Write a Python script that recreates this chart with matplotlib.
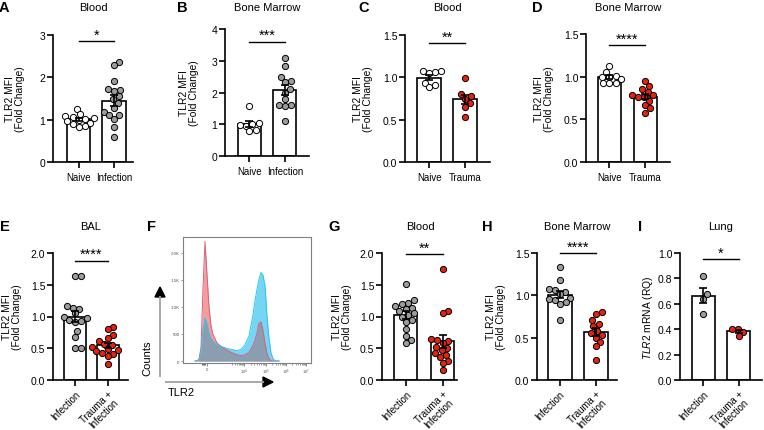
import numpy as np
import matplotlib
matplotlib.use("Agg")
import matplotlib.pyplot as plt
from matplotlib.patches import Polygon

plt.rcParams['font.family'] = ['Liberation Sans', 'DejaVu Sans']
plt.rcParams['mathtext.fontset'] = 'custom'
plt.rcParams['mathtext.rm'] = 'Liberation Sans'
plt.rcParams['mathtext.it'] = 'Liberation Sans:italic'

# ---------------- data ----------------
A_naive = [1.25, 1.13, 1.09, 1.07, 1.04, 1.01, 0.99, 0.96, 0.93, 0.90, 0.86, 0.83]
A_infection = [2.37, 2.28, 1.92, 1.72, 1.70, 1.68, 1.55, 1.50, 1.40, 1.28, 1.18, 1.12, 1.10, 1.02, 0.82, 0.58]
B_naive = [1.56, 1.03, 1.00, 0.97, 0.95, 0.82, 0.78]
B_infection = [3.10, 2.82, 2.48, 2.35, 2.33, 2.12, 2.00, 1.78, 1.62, 1.60, 1.58, 1.10]
C_naive = [1.08, 1.07, 1.06, 1.05, 0.93, 0.91, 0.88]
C_trauma = [0.99, 0.80, 0.78, 0.75, 0.70, 0.65, 0.53]
D_naive = [1.13, 1.06, 1.01, 1.00, 1.00, 0.97, 0.93, 0.93, 0.92]
D_trauma = [0.95, 0.89, 0.86, 0.82, 0.79, 0.78, 0.76, 0.76, 0.72, 0.67, 0.63, 0.58]
E_infection = [1.63, 1.63, 1.17, 1.14, 1.12, 1.05, 1.00, 0.98, 0.94, 0.93, 0.92, 0.77, 0.68, 0.51, 0.51]
E_trauma_inf = [0.84, 0.80, 0.71, 0.66, 0.62, 0.57, 0.55, 0.52, 0.49, 0.47, 0.45, 0.43, 0.41, 0.38, 0.25]
G_infection = [1.51, 1.26, 1.22, 1.20, 1.16, 1.14, 1.12, 1.08, 1.05, 1.03, 1.00, 0.95, 0.92, 0.80, 0.70, 0.63, 0.59]
G_trauma_inf = [1.75, 1.09, 1.05, 0.65, 0.63, 0.61, 0.58, 0.52, 0.50, 0.47, 0.42, 0.40, 0.36, 0.30, 0.27, 0.15]
H_infection = [1.33, 1.18, 1.07, 1.06, 1.04, 1.01, 0.97, 0.96, 0.95, 0.92, 0.90, 0.71]
H_trauma_inf = [0.80, 0.78, 0.71, 0.66, 0.64, 0.58, 0.55, 0.53, 0.50, 0.45, 0.40, 0.24]
I_infection = [0.82, 0.68, 0.64, 0.52]
I_trauma_inf = [0.40, 0.40, 0.38, 0.35]

# histogram (panel F): channel position on TLR2 axis, event counts
F_channel = [96, 112, 128, 144, 160, 176, 192, 208, 224, 240, 272, 304, 336, 368, 400, 432,
             464, 496, 528, 560, 576, 592, 608, 624, 640, 656, 672, 688, 704, 720, 736, 768]
F_red = [0, 5, 30, 250, 1350, 2214, 1600, 1000, 650, 490, 335, 270, 220, 180, 145, 115,
         100, 115, 160, 290, 380, 520, 700, 720, 560, 330, 140, 40, 5, 0, 0, 0]
F_blue = [0, 0, 20, 180, 560, 800, 690, 520, 420, 370, 300, 270, 245, 225, 210, 190,
          215, 300, 460, 860, 1116, 1330, 1520, 1640, 1590, 1394, 820, 420, 150, 45, 5, 0]
F_ytick_pos = [0, 500, 1000, 1500, 2000]
F_ytick_labels = ['0', '500', '1.0K', '1.5K', '2.0K']
F_xtick_pos = [192, 488, 664, 824, 984]
F_xtick_labels = ['0', r'$10^4$', r'$10^5$', r'$10^6$', r'$10^7$']

cats_naive_inf = ['Naive', 'Infection']
cats_naive_trauma = ['Naive', 'Trauma']
cats_inf_ti = ['Infection', 'Trauma +\nInfection']

W, H = 764, 431
fig = plt.figure(figsize=(W / 100, H / 100), dpi=100)

GRAY = '#9c9c9c'
WHITE = '#ffffff'
RED = '#e6220c'


def fbox(l, t, r, b):
    return [l / W, 1 - b / H, (r - l) / W, (b - t) / H]


def swarm_px(ys, d):
    placed = []
    res = np.zeros(len(ys))
    for i in np.argsort(ys):
        y = ys[i]
        cands = [0.0]
        for (px, py) in placed:
            dy = abs(py - y)
            if dy < d:
                dx = np.sqrt(d * d - dy * dy)
                cands += [px + dx, px - dx]
        cands.sort(key=abs)
        for c in cands:
            if all((c - px) ** 2 + (y - py) ** 2 >= d * d - 1e-6 for px, py in placed):
                res[i] = c
                placed.append((c, y))
                break
    return res


def bar_panel(box, xlim, bw, groups, fills, ylim, yticks, ytl, cats, rotate, sig_y, stars):
    ax = fig.add_axes(fbox(*box))
    ax.set_xlim(*xlim)
    ax.set_ylim(*ylim)
    ax.patch.set_alpha(0)
    for s in ['top', 'right']:
        ax.spines[s].set_visible(False)
    for s in ['left', 'bottom']:
        ax.spines[s].set_linewidth(1.2)
    wpx = box[2] - box[0]
    hpx = box[3] - box[1]
    sx = wpx / (xlim[1] - xlim[0])
    sy = hpx / (ylim[1] - ylim[0])
    means = [np.mean(g) for g in groups]
    sems = [np.std(g, ddof=1) / np.sqrt(len(g)) for g in groups]
    ax.bar([0, 1], means, width=bw, color='white', edgecolor='black', linewidth=1.2, zorder=1)
    for k, g in enumerate(groups):
        g = np.asarray(g, float)
        offs = swarm_px(g * sy, 6.2) / sx
        ax.scatter(k + offs, g, s=20, c=fills[k], edgecolors='black', linewidths=0.7,
                   zorder=3, clip_on=False)
    ax.errorbar([0, 1], means, yerr=sems, fmt='none', ecolor='black', elinewidth=1.2,
                capsize=3.2, capthick=1.2, zorder=4)
    ax.set_yticks(yticks)
    ax.set_yticklabels(ytl)
    ax.tick_params(axis='y', length=4, width=1.2, labelsize=7.5, pad=1.5)
    ax.tick_params(axis='x', length=4, width=1.2, labelsize=6.9, pad=3)
    ax.set_xticks([0, 1])
    if rotate:
        ax.tick_params(axis='x', labelsize=6.9, pad=2)
        ax.set_xticklabels(cats, rotation=45, ha='right', va='top', rotation_mode='anchor',
                           multialignment='center', linespacing=0.95)
    else:
        ax.set_xticklabels(cats)
    ax.plot([0, 1], [sig_y, sig_y], color='black', lw=1.0, clip_on=False, zorder=5)
    ax.annotate(stars, xy=(0.5, sig_y), xytext=(0, 1.9), textcoords='offset points',
                ha='center', va='baseline', fontsize=10.5, annotation_clip=False)
    return ax


dec1 = ['0', '1', '2', '3']
bar_panel((53, 36, 133, 163), (-0.72, 1.535), 0.66, [A_naive, A_infection], [WHITE, GRAY],
          (0, 3), [0, 1, 2, 3], dec1, cats_naive_inf, False, 2.85, '*')
bar_panel((225, 30, 309, 157), (-0.69, 1.68), 0.65, [B_naive, B_infection], [WHITE, GRAY],
          (0, 4), [0, 1, 2, 3, 4], ['0', '1', '2', '3', '4'], cats_naive_inf, False, 3.6, '***')
t15 = [0, 0.5, 1.0, 1.5]
l15 = ['0.0', '0.5', '1.0', '1.5']
bar_panel((405, 36, 490, 163), (-0.667, 1.69), 0.67, [C_naive, C_trauma], [WHITE, RED],
          (0, 1.5), t15, l15, cats_naive_trauma, False, 1.40, '**')
bar_panel((586, 35, 670, 163), (-0.65, 1.68), 0.64, [D_naive, D_trauma], [WHITE, RED],
          (0, 1.5), t15, l15, cats_naive_trauma, False, 1.37, '****')
t20 = [0, 0.5, 1.0, 1.5, 2.0]
l20 = ['0.0', '0.5', '1.0', '1.5', '2.0']
bar_panel((53, 254, 128, 381), (-0.68, 1.63), 0.68, [E_infection, E_trauma_inf], [GRAY, RED],
          (0, 2.0), t20, l20, cats_inf_ti, True, 1.88, '****')
bar_panel((382, 254, 457, 381), (-0.64, 1.39), 0.62, [G_infection, G_trauma_inf], [GRAY, RED],
          (0, 2.0), t20, l20, cats_inf_ti, True, 1.98, '**')
bar_panel((537, 254, 617, 381), (-0.62, 1.58), 0.66, [H_infection, H_trauma_inf], [GRAY, RED],
          (0, 1.5), t15, l15, cats_inf_ti, True, 1.5, '****')
t10 = [0, 0.2, 0.4, 0.6, 0.8, 1.0]
l10 = ['0.0', '0.2', '0.4', '0.6', '0.8', '1.0']
bar_panel((680, 254, 762, 381), (-0.67, 1.67), 0.66, [I_infection, I_trauma_inf], [GRAY, RED],
          (0, 1.0), t10, l10, cats_inf_ti, True, 0.95, '*')

# ---------------- histogram panel F ----------------
axF = fig.add_axes(fbox(183, 238, 311, 364))
axF.set_xlim(0, 1024)
axF.set_ylim(-37, 2296)
ch = np.asarray(F_channel, float)
red = np.asarray(F_red, float)
blue = np.asarray(F_blue, float)
axF.fill_between(ch, 0, blue, color='#74d5f4', lw=0, zorder=1)
axF.fill_between(ch, 0, red, color='#f59c9c', lw=0, zorder=2)
axF.fill_between(ch, 0, np.minimum(red, blue), color='#8b9db0', lw=0, zorder=3)
axF.plot(ch, red, color='#d8607a', lw=0.7, zorder=4)
axF.plot(ch, blue, color='#2ec4f0', lw=0.7, zorder=5)
for s in axF.spines.values():
    s.set_color('#808080')
    s.set_linewidth(0.8)
axF.set_yticks(F_ytick_pos)
axF.set_yticklabels(F_ytick_labels, fontsize=3.2, color='#555555')
axF.tick_params(axis='y', length=1.5, width=0.4, pad=1, colors='#555555')
axF.set_xticks(F_xtick_pos)
axF.set_xticklabels(F_xtick_labels, fontsize=3.0, color='#555555')
axF.tick_params(axis='x', length=1.8, width=0.5, pad=1, colors='#555555')
minor = []
for a, b in zip(F_xtick_pos[1:-1], F_xtick_pos[2:]):
    minor += [a + (b - a) * np.log10(k) for k in range(2, 10)]
d0 = F_xtick_pos[1] - F_xtick_pos[0]
minor += [F_xtick_pos[0] + d0 * 0.55 + d0 * 0.45 * np.log10(k) for k in range(2, 10)]
minor += [F_xtick_pos[0] - 40 * np.log10(k) for k in range(2, 10)]
axF.set_xticks(minor, minor=True)
axF.tick_params(axis='x', which='minor', length=1.2, width=0.4, colors='#555555')

# ---------------- overlay (pixel coords) ----------------
ov = fig.add_axes([0, 0, 1, 1], zorder=10)
ov.set_xlim(0, W)
ov.set_ylim(H, 0)
ov.axis('off')
ov.patch.set_alpha(0)

letters = [('A', 4, 8), ('B', 182, 8), ('C', 364, 8), ('D', 537, 8),
           ('E', 5, 227), ('F', 151, 227), ('G', 334, 227), ('H', 487, 227), ('I', 640, 227)]
for t, x, y in letters:
    ov.text(x, y, t, fontsize=10.5, fontweight='bold', ha='center', va='center')

titles = [('Blood', 93, 8), ('Bone Marrow', 267, 8), ('Blood', 447.5, 8), ('Bone Marrow', 628, 8),
          ('BAL', 91, 227), ('Blood', 420, 227), ('Bone Marrow', 577, 227), ('Lung', 721, 227)]
for t, x, y in titles:
    ov.text(x, y, t, fontsize=8, ha='center', va='center')

yl = 'TLR2 MFI\n(Fold Change)'
ylabels = [(yl, 15, 99.5), (yl, 189, 93.5), (yl, 363, 99.5), (yl, 544, 99),
           (yl, 12, 317.5), (yl, 342, 317.5), (yl, 496, 317.5),
           (r'$\mathit{TLR2}$ mRNA (RQ)', 648, 317.5)]
for t, x, y in ylabels:
    ov.text(x, y, t, fontsize=7.4, rotation=90, ha='center', va='center',
            multialignment='center', linespacing=1.1)

# F axis arrows and labels
ov.plot([160, 160], [378, 297], color='#a0a0a0', lw=1.3, solid_capstyle='butt')
ov.add_patch(Polygon([[160, 288], [155, 298], [165, 298]], closed=True, color='black'))
ov.plot([165, 264], [383, 383], color='#a0a0a0', lw=1.3, solid_capstyle='butt')
ov.add_patch(Polygon([[273, 383], [263, 378], [263, 388]], closed=True, color='black'))
ov.text(147, 358, 'Counts', fontsize=8, rotation=90, ha='center', va='center')
ov.text(168, 393, 'TLR2', fontsize=8, ha='left', va='center')

fig.savefig('out.png', dpi=100)
